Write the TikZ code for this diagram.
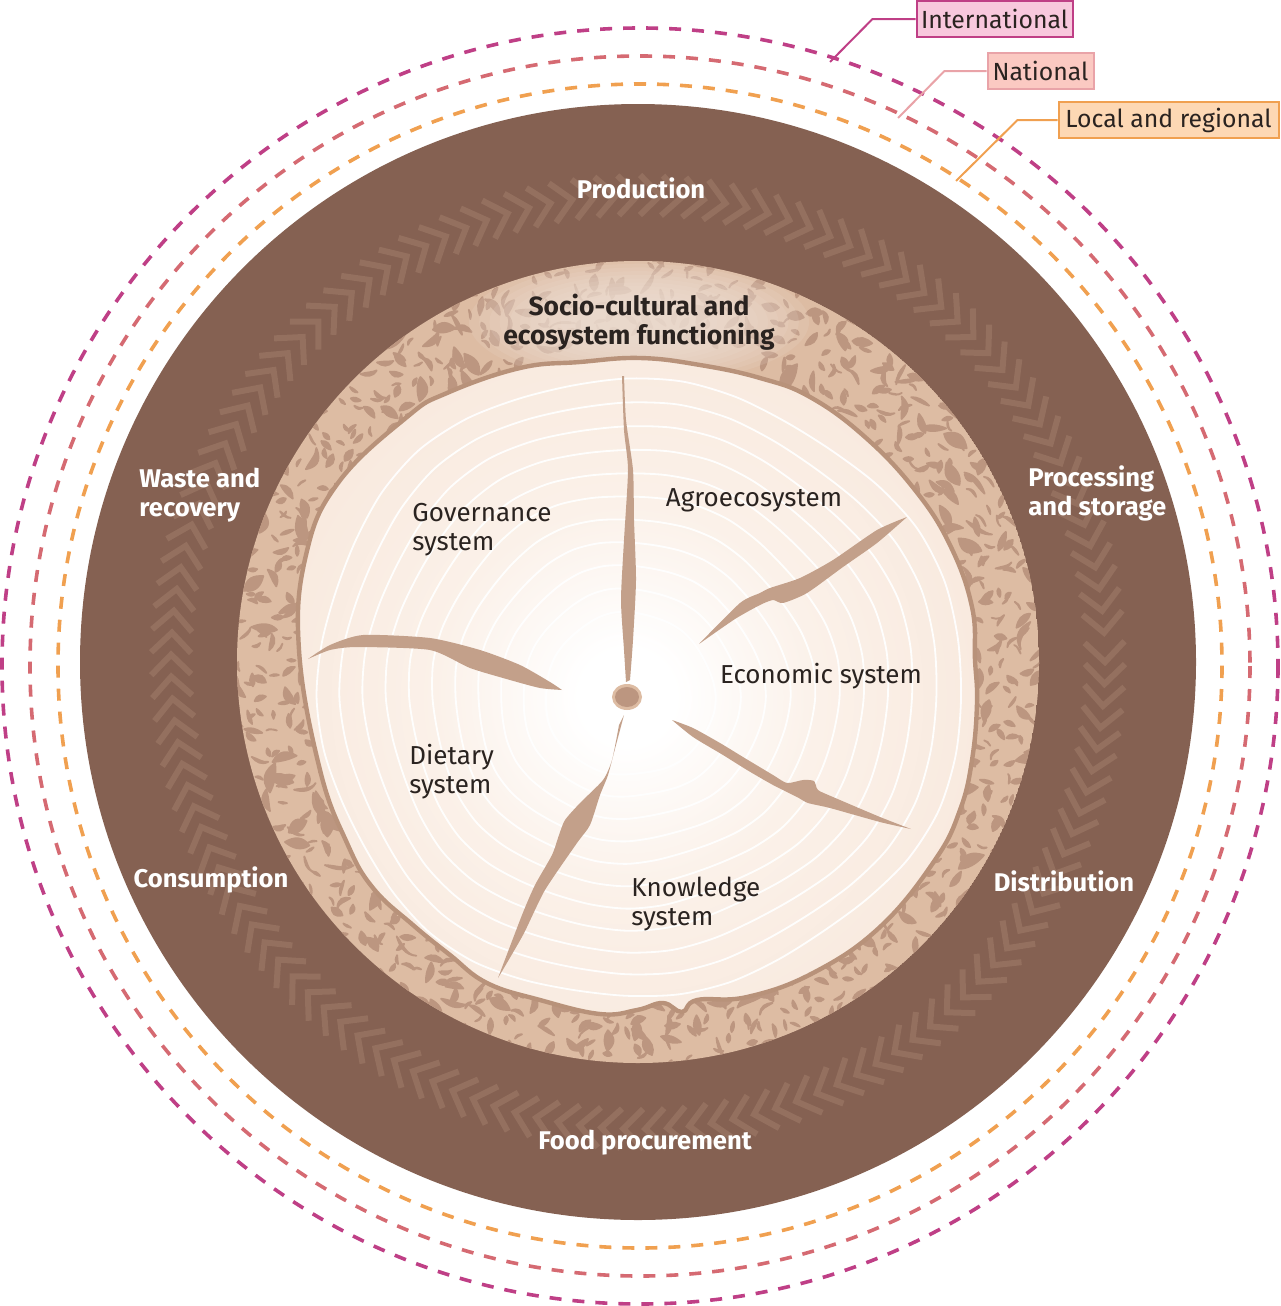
\documentclass[tikz,border=0pt]{standalone}
\usepackage{fontspec}
\setmainfont{Fira Sans}
\definecolor{discbrown}{HTML}{856152}
\definecolor{chevbrown}{HTML}{94705F}
\definecolor{barktan}{HTML}{DDBCA3}
\definecolor{barkmark}{HTML}{BC9680}
\definecolor{rimbrown}{HTML}{B8927A}
\definecolor{crackbrown}{HTML}{C3A08A}
\definecolor{woodedge}{HTML}{F4DFCF}
\definecolor{woodmid}{HTML}{F8E8DC}
\definecolor{woodcore}{HTML}{FBF1E9}
\definecolor{inktext}{HTML}{2A2320}
\definecolor{intlline}{HTML}{BF3F86}
\definecolor{intlfill}{HTML}{F8C8DD}
\definecolor{natline}{HTML}{D56A72}
\definecolor{natedge}{HTML}{E9A3A8}
\definecolor{natfill}{HTML}{FBC9C2}
\definecolor{localline}{HTML}{F0A050}
\definecolor{localfill}{HTML}{FDD8B4}
\pgfdeclareradialshading{woodglow}{\pgfpoint{0bp}{0bp}}{color(0bp)=(white); color(3bp)=(white); color(12bp)=(woodcore); color(25bp)=(woodmid); color(42bp)=(woodedge); color(50bp)=(woodedge)}
\newcommand{\woodpath}{plot[smooth cycle, tension=.7] coordinates {(520,368) (580,362) (640,358) (700,365) (760,378) (810,397) (865,437) (915,490) (950,545) (972,607) (975,660) (977,703) (972,760) (960,810) (935,860) (880,927) (813,973) (747,997) (697,1000) (682,1012) (663,1003) (637,1010) (600,1014) (540,1000) (487,983) (450,955) (413,925) (373,888) (347,843) (320,770) (299,650) (306,555) (338,483) (407,417) (447,393)}}
\tikzset{
    circledash/.style={line width=1.8pt, dash pattern=on 6pt off 5.5pt},
    levelbox/.style={draw, line width=1pt, font=\fontsize{12.4}{15}\selectfont, text=inktext, inner sep=0pt, minimum height=18pt},
    cyclelabel/.style={font=\fontsize{12.8}{14.5}\selectfont\bfseries, text=white, align=left, inner sep=0pt},
    woodlabel/.style={font=\fontsize{13}{14.5}\selectfont, text=inktext, align=left, inner sep=0pt},
    chevron/.style={draw=chevbrown, line width=3pt, miter limit=4},
    barkblot/.style={fill=barkmark, draw=barkmark, line width=0.9pt, line join=round},
    crack/.style={fill=crackbrown}
}
\begin{document}
\begin{tikzpicture}[x=0.5pt,y=-0.5pt]
    \useasboundingbox (0,0) rectangle (1280,1306);
    \coordinate (hub) at (638,662);
    \coordinate (pith) at (627,697);
    \coordinate (rings) at (640,666);

    \draw[circledash,intlline] (rings) circle (638);
    \draw[circledash,natline] (rings) circle (610);
    \draw[circledash,localline] (rings) circle (582);

    \fill[discbrown] (hub) circle (558);
    \foreach \ang in {0,2.7,...,357}
        \draw[chevron] ([shift={(hub)}]\ang-2.45:447) -- ([shift={(hub)}]\ang:467) -- ([shift={(hub)}]\ang-2.45:487);

    \begin{scope}
        \clip (hub) circle (401);
        \fill[barktan] (hub) circle (401);
        \pgfmathsetseed{11}
        \foreach \row in {322,336,350,364,378,392}
            \foreach \i in {0,2.5,...,358}{
                \pgfmathsetmacro\barkang{\i+rnd*2.4}
                \pgfmathsetmacro\barkrad{\row+rnd*13}
                \pgfmathsetmacro\barkdir{rnd*360}
                \pgfmathsetmacro\barklen{8+rnd*rnd*24}
                \pgfmathsetmacro\barkup{20+rnd*35}
                \pgfmathsetmacro\barkdn{-40+rnd*50}
                \filldraw[barkblot,shift={([shift={(hub)}]\barkang:\barkrad)}]
                    (0,0) .. controls (\barkdir+\barkup:0.4*\barklen) and (\barkdir+\barkup-10:0.75*\barklen) .. (\barkdir:\barklen)
                    .. controls (\barkdir+\barkdn+10:0.75*\barklen) and (\barkdir+\barkdn:0.4*\barklen) .. cycle;
            }
        \foreach \s in {1.0,0.94,...,0.3}
            \fill[barktan!45!white,opacity=0.14] (639,322) ellipse ({170*\s} and {62*\s});
    \end{scope}

    \begin{scope}
        \clip \woodpath;
        \shade[shading=woodglow] (pith) circle (400);
        \begin{scope}[shift={(pith)}]
            \foreach \k in {0.11,0.18,0.25,0.32,0.39,0.46,0.53,0.6,0.67,0.74,0.81,0.88,0.95}
                \draw[white,line width=0.9pt,opacity=0.95] plot[smooth cycle, domain=0:350, samples=36]
                    (\x:{332*\k*(1+0.031*cos(\x)-0.03*sin(\x)+0.0215*cos(2*\x))*(1+0.016*sin(3*\x+100*\k)+0.01*sin(7*\x+300*\k))});
        \end{scope}
    \end{scope}
    \draw[rimbrown,line width=2.2pt] \woodpath;

    \fill[crack] plot[smooth, tension=.4] coordinates {(622,376) (624,430) (628,470) (624,540) (621,600) (624,650) (626,682)} -- plot[smooth, tension=.4] coordinates {(630,680) (633,640) (636,580) (634,520) (633,470) (626,420) (624,376)} -- cycle;
    \fill[crack] plot[smooth, tension=.4] coordinates {(907,517) (877,543) (843,567) (807,593) (783,603) (773,600) (760,605) (735,619) (699,644)} -- plot[smooth, tension=.4] coordinates {(699,644) (740,603) (760,593) (770,588) (800,578) (833,560) (877,530) (907,517)} -- cycle;
    \fill[crack] plot[smooth, tension=.4] coordinates {(672,720) (693,728) (720,743) (743,757) (773,775) (787,783) (803,780) (814,781) (818,790) (833,797) (880,817) (911,829)} -- plot[smooth, tension=.4] coordinates {(911,829) (880,822) (830,808) (808,803) (797,797) (773,785) (747,770) (723,755) (693,737) (672,720)} -- cycle;
    \fill[crack] plot[smooth, tension=.4] coordinates {(498,978) (523,935) (545,890) (577,843) (590,825) (600,795) (608,775) (616,745) (624,715)} -- plot[smooth, tension=.4] coordinates {(619,725) (612,760) (603,780) (580,803) (565,820) (559,835) (552,855) (535,885) (522,915) (498,978)} -- cycle;
    \fill[crack] plot[smooth, tension=.4] coordinates {(308,659) (330,645) (363,635) (430,638) (480,650) (520,665) (550,682) (562,690)} -- plot[smooth, tension=.4] coordinates {(562,690) (540,688) (510,680) (470,668) (430,650) (357,647) (330,650) (308,659)} -- cycle;
    \fill[barktan] (pith) ellipse (15 and 13);
    \fill[barkmark] (pith) ellipse (12 and 10);

    \node[cyclelabel] (production) at (641,188) {Production};
    \node[cyclelabel,anchor=west] (processing) at (1028,493) {Processing\\and storage};
    \node[cyclelabel] (distribution) at (1064,881) {Distribution};
    \node[cyclelabel] (procurement) at (645,1143) {Food procurement};
    \node[cyclelabel] (consumption) at (211,880) {Consumption};
    \node[cyclelabel,anchor=west] (waste) at (139,495) {Waste and\\recovery};
    \node[cyclelabel,text=inktext,align=center,font=\fontsize{13.2}{14.5}\selectfont\bfseries] (socio) at (639,322) {Socio-cultural and\\ecosystem functioning};

    \node[woodlabel,anchor=west] (governance) at (412,530) {Governance\\system};
    \node[woodlabel] (agro) at (754,500) {Agroecosystem};
    \node[woodlabel] (economic) at (821,676) {Economic system};
    \node[woodlabel,anchor=west] (knowledge) at (631,904) {Knowledge\\system};
    \node[woodlabel,anchor=west] (dietary) at (409,772) {Dietary\\system};

    \node[levelbox,draw=intlline,fill=intlfill,minimum width=78pt] (intl) at (994.5,19) {International};
    \node[levelbox,draw=natedge,fill=natfill,minimum width=53pt] (nat) at (1040.5,71) {National};
    \node[levelbox,draw=localline,fill=localfill,minimum width=110pt] (local) at (1168.5,120) {Local and regional};
    \coordinate (intlend) at (830,62);
    \coordinate (natend) at (898,118);
    \coordinate (localend) at (956,181);
    \draw[intlline,line width=1pt] (intl.west) -- ++(-43,0) -- (intlend);
    \draw[natedge,line width=1pt] (nat.west) -- ++(-42,0) -- (natend);
    \draw[localline,line width=1pt] (local.west) -- ++(-40,0) -- (localend);
\end{tikzpicture}
\end{document}
